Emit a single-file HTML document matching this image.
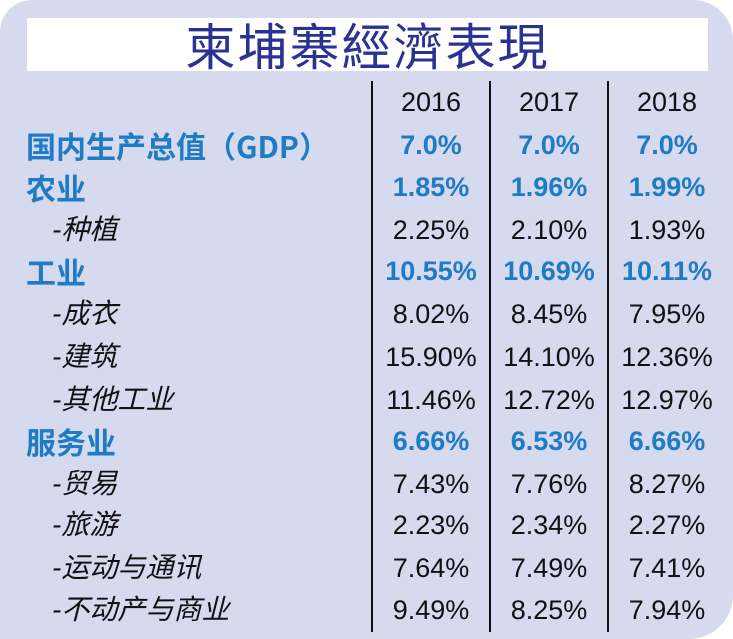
<!DOCTYPE html>
<html><head><meta charset="utf-8"><style>
html,body{margin:0;padding:0;background:#fff;}
.bg{position:absolute;left:0;top:0;width:733px;height:639px;background:#d5daef;border-radius:32px 40px 44px 0;}
.title{position:absolute;left:27px;top:18px;width:681px;height:53px;background:#fff;text-align:center;font:50px/53px "Noto Sans CJK TC","WenQuanYi Zen Hei",sans-serif;color:#2b3291;letter-spacing:2px;}
.vl{position:absolute;top:81px;width:2px;height:551px;background:#111;}
.row{position:absolute;left:0;width:733px;height:42px;font:27px/42px "Liberation Sans","Noto Sans CJK SC",sans-serif;color:#111;}
.row span{position:absolute;top:0;white-space:nowrap;}
.lab{left:26px;}
.sub{left:52px;font-style:italic;font-size:28px;}
.c{width:118px;text-align:center;}
.c1{left:372px}.c2{left:490px}.c3{left:608px}
.b{color:#1f7bc4;font-weight:bold;}
.b .lab{font-family:"Noto Sans CJK SC",sans-serif;font-size:30px;}
</style></head><body>
<div class="bg"></div>
<div class="title">柬埔寨經濟表現</div>
<div class="vl" style="left:371px"></div>
<div class="vl" style="left:489px"></div>
<div class="vl" style="left:607px"></div>
<div class="row" style="top:81px"><span class="c c1">2016</span><span class="c c2">2017</span><span class="c c3">2018</span></div>
<div class="row b" style="top:124px"><span class="lab">国内生产总值（GDP）</span><span class="c c1">7.0%</span><span class="c c2">7.0%</span><span class="c c3">7.0%</span></div>
<div class="row b" style="top:166px"><span class="lab">农业</span><span class="c c1">1.85%</span><span class="c c2">1.96%</span><span class="c c3">1.99%</span></div>
<div class="row" style="top:209px"><span class="sub">-种植</span><span class="c c1">2.25%</span><span class="c c2">2.10%</span><span class="c c3">1.93%</span></div>
<div class="row b" style="top:250px"><span class="lab">工业</span><span class="c c1">10.55%</span><span class="c c2">10.69%</span><span class="c c3">10.11%</span></div>
<div class="row" style="top:293px"><span class="sub">-成衣</span><span class="c c1">8.02%</span><span class="c c2">8.45%</span><span class="c c3">7.95%</span></div>
<div class="row" style="top:336px"><span class="sub">-建筑</span><span class="c c1">15.90%</span><span class="c c2">14.10%</span><span class="c c3">12.36%</span></div>
<div class="row" style="top:379px"><span class="sub">-其他工业</span><span class="c c1">11.46%</span><span class="c c2">12.72%</span><span class="c c3">12.97%</span></div>
<div class="row b" style="top:420px"><span class="lab">服务业</span><span class="c c1">6.66%</span><span class="c c2">6.53%</span><span class="c c3">6.66%</span></div>
<div class="row" style="top:463px"><span class="sub">-贸易</span><span class="c c1">7.43%</span><span class="c c2">7.76%</span><span class="c c3">8.27%</span></div>
<div class="row" style="top:504px"><span class="sub">-旅游</span><span class="c c1">2.23%</span><span class="c c2">2.34%</span><span class="c c3">2.27%</span></div>
<div class="row" style="top:547px"><span class="sub">-运动与通讯</span><span class="c c1">7.64%</span><span class="c c2">7.49%</span><span class="c c3">7.41%</span></div>
<div class="row" style="top:589px"><span class="sub">-不动产与商业</span><span class="c c1">9.49%</span><span class="c c2">8.25%</span><span class="c c3">7.94%</span></div>
</body></html>
